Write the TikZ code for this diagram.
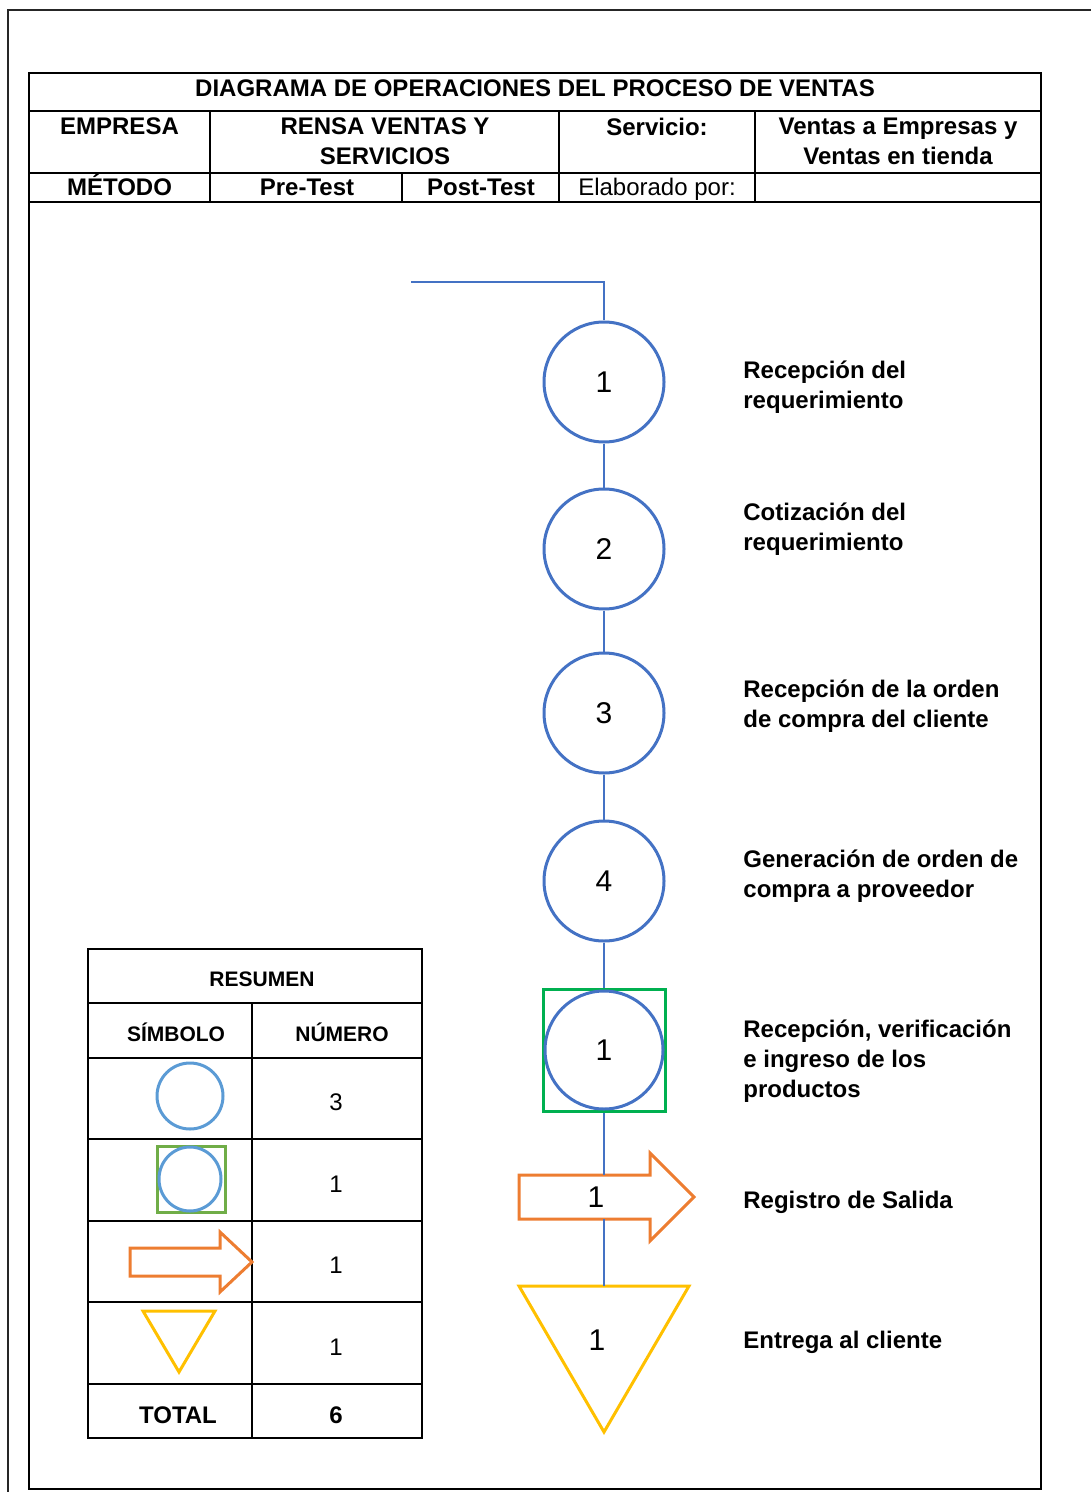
\documentclass[tikz,border=0pt]{standalone}
\usepackage{fontspec}
\setmainfont{Liberation Sans}
\usetikzlibrary{arrows.meta}

\definecolor{azul}{HTML}{4472C4}
\definecolor{azulclaro}{HTML}{5B9BD5}
\definecolor{verde}{HTML}{00B050}
\definecolor{verdeclaro}{HTML}{70AD47}
\definecolor{naranja}{HTML}{ED7D31}
\definecolor{amarillo}{HTML}{FFC000}

\begin{document}
\begin{tikzpicture}[x=0.5pt, y=-0.5pt,
    marco/.style={line width=1.2pt, black},
    celda/.style={line width=1pt, black},
    negrita/.style={font=\fontsize{12}{15}\selectfont\bfseries, inner sep=0pt},
    normal/.style={font=\fontsize{12}{15}\selectfont, inner sep=0pt},
    chica/.style={font=\fontsize{10.5}{13}\selectfont\bfseries, inner sep=0pt},
    opcirc/.style={circle, draw=azul, line width=1.5pt, minimum size=60pt, inner sep=0pt,
                   font=\fontsize{15}{18}\selectfont},
    cuadro/.style={rectangle, draw=verde, line width=1.5pt, minimum size=61pt, inner sep=0pt},
    linea/.style={azul, line width=0.75pt},
    etiqueta/.style={negrita, align=left}]

    \useasboundingbox (0,0) rectangle (1091,1492);

    % Marco exterior y marco de la hoja
    \draw[line width=1.2pt, black!85] (8,1492) -- (8,10) -- (1091,10);
    \draw[marco] (29,73) rectangle (1041,1489);

    % Encabezado
    \def\fa{73}
    \def\fb{111}
    \def\fc{173}
    \def\fd{202}
    \draw[celda] (29,\fb) -- (1041,\fb);
    \draw[celda] (29,\fc) -- (1041,\fc);
    \draw[celda] (29,\fd) -- (1041,\fd);
    \foreach \x in {210,559,755} \draw[celda] (\x,\fb) -- (\x,\fd);
    \draw[celda] (402,\fc) -- (402,\fd);

    \node[negrita, anchor=base] (titulo) at (535,96.6) {DIAGRAMA DE OPERACIONES DEL PROCESO DE VENTAS};
    \node[negrita, anchor=north] (empresa) at (119.5,117.4) {EMPRESA};
    \node[negrita, anchor=north, align=center] (rensa) at (385,117.4) {RENSA VENTAS Y\\SERVICIOS};
    \node[negrita, anchor=north] (servicio) at (657,117.4) {Servicio:};
    \node[negrita, anchor=north, align=center] (ventas) at (898,117.4) {Ventas a Empresas y\\Ventas en tienda};
    \node[negrita, anchor=base] (metodo) at (119.5,195.6) {MÉTODO};
    \node[negrita, anchor=base] (pre) at (307,195.6) {Pre-Test};
    \node[negrita, anchor=base] (post) at (481,195.6) {Post-Test};
    \node[normal, anchor=base] (elaborado) at (657,195.6) {Elaborado por:};

    % Diagrama de operaciones
    \def\xc{604}
    \coordinate (inicio) at (411,282);
    \node[opcirc] (op1) at (\xc,382) {1};
    \node[opcirc] (op2) at (\xc,549) {2};
    \node[opcirc] (op3) at (\xc,713) {3};
    \node[opcirc] (op4) at (\xc,881) {4};
    \node[cuadro] (op5) at (\xc,1050) {};
    \node[opcirc, minimum size=59pt] (op5c) at (op5) {1};

    % Flecha de salida
    \draw[naranja, line width=1.5pt, line join=miter]
        (519,1175) -- (650,1175) -- (650,1153) -- (694,1197)
        -- (650,1241) -- (650,1219) -- (519,1219) -- cycle;
    \coordinate (salida-n) at (\xc,1175);
    \coordinate (salida-s) at (\xc,1219);
    \node[font=\fontsize{15}{18}\selectfont, inner sep=0pt] (sal) at (596,1197) {1};

    % Triangulo de entrega
    \draw[amarillo, line width=1.5pt] (519,1286) -- (689,1286) -- (\xc,1432) -- cycle;
    \coordinate (entrega-n) at (\xc,1286);
    \node[font=\fontsize{15}{18}\selectfont, inner sep=0pt] (ent) at (597,1340) {1};

    % Conectores
    \draw[linea] (inicio) -| (op1);
    \draw[linea] (op1) -- (op2);
    \draw[linea] (op2) -- (op3);
    \draw[linea] (op3) -- (op4);
    \draw[linea] (op4) -- (op5);
    \draw[linea] (op5) -- (salida-n);
    \draw[linea] (salida-s) -- (entrega-n);

    % Descripciones
    \node[etiqueta, anchor=north west] (t1) at (743,360.4) {Recepción del\\requerimiento};
    \node[etiqueta, anchor=north west] (t2) at (743,502.4) {Cotización del\\requerimiento};
    \node[etiqueta, anchor=north west] (t3) at (743,679.4) {Recepción de la orden\\de compra del cliente};
    \node[etiqueta, anchor=north west] (t4) at (743,849.4) {Generación de orden de\\compra a proveedor};
    \node[etiqueta, anchor=north west] (t5) at (743,1019.4) {Recepción, verificación\\e ingreso de los\\productos};
    \node[negrita, anchor=base west] (t6) at (743,1208.6) {Registro de Salida};
    \node[negrita, anchor=base west] (t7) at (743,1348.6) {Entrega al cliente};

    % Tabla resumen
    \draw[line width=1.2pt] (88,949) rectangle (422,1438);
    \foreach \y in {1003,1058,1139,1221,1302,1384} \draw[line width=1.2pt] (88,\y) -- (422,\y);
    \draw[line width=1.2pt] (252,1003) -- (252,1438);

    \node[chica, anchor=base] (resumen) at (262,986.5) {RESUMEN};
    \node[chica, anchor=base] (simbolo) at (176,1041.5) {SÍMBOLO};
    \node[chica, anchor=base] (numero) at (342,1041.5) {NÚMERO};

    % Simbolos
    \draw[azulclaro, line width=1.5pt] (190,1096) ellipse [x radius=16.5pt, y radius=16.5pt];
    \draw[verdeclaro, line width=1.5pt] (157,1146) rectangle (225,1212);
    \draw[azulclaro, line width=1.5pt] (190,1179) ellipse [x radius=15.5pt, y radius=16pt];
    \draw[naranja, line width=1.5pt] (130,1248) -- (220,1248) -- (220,1232) -- (252,1262)
        -- (220,1292) -- (220,1276) -- (130,1276) -- cycle;
    \draw[amarillo, line width=1.5pt] (143,1311) -- (215,1311) -- (179,1372) -- cycle;

    \node[normal, anchor=base] (n1) at (336,1110.6) {3};
    \node[normal, anchor=base] (n2) at (336,1192.6) {1};
    \node[normal, anchor=base] (n3) at (336,1273.6) {1};
    \node[normal, anchor=base] (n4) at (336,1355.6) {1};
    \node[negrita, anchor=base] (total) at (178,1423.6) {TOTAL};
    \node[negrita, anchor=base] (suma) at (336,1423.6) {6};

\end{tikzpicture}
\end{document}
